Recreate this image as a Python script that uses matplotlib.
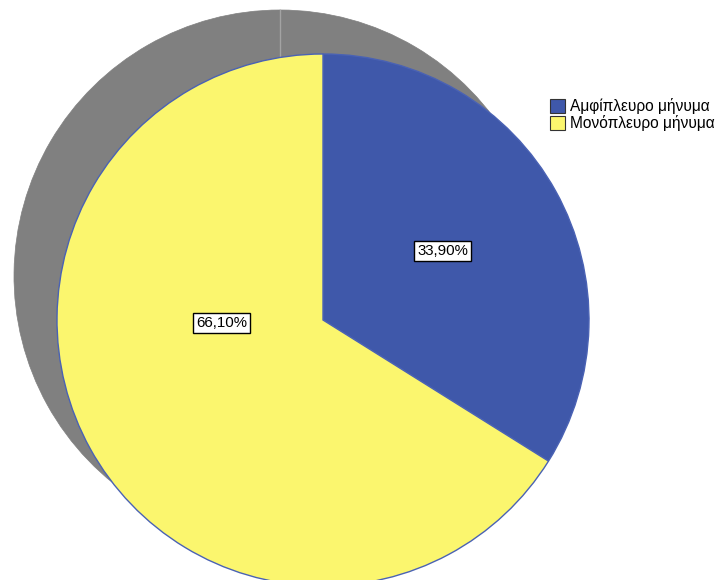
import matplotlib
matplotlib.use('Agg')
import matplotlib.pyplot as plt
from matplotlib.patches import Patch

plt.rcParams['font.family'] = ['Liberation Sans', 'DejaVu Sans']

# Chart data
categories = ['Αμφίπλευρο μήνυμα', 'Μονόπλευρο μήνυμα']
percentages = [33.90, 66.10]
colors = ['#3f58aa', '#fbf66e']

W, H = 719, 580
fig = plt.figure(figsize=(W / 100, H / 100), dpi=100)
ax = fig.add_axes([0, 0, 1, 1])

radius = 266
center = (323, H - 320)
shadow_center = (280, H - 276)

# gray shadow pie behind the main one
ax.pie(percentages, colors=['#808080'] * len(percentages), startangle=90,
       counterclock=False, center=shadow_center, radius=radius,
       wedgeprops=dict(edgecolor='#808080', linewidth=0.5))
# light slice line visible on the shadow at the top
ax.plot([shadow_center[0]] * 2, [shadow_center[1], shadow_center[1] + radius],
        color='#a3a3a3', linewidth=1, zorder=1.5)

wedges, _ = ax.pie(percentages, colors=colors, startangle=90,
                   counterclock=False, center=center, radius=radius,
                   wedgeprops=dict(edgecolor='#4a62b4', linewidth=1, zorder=2))

# value labels (SPSS style boxes)
label_offsets = [(0.45, 0.26), (-0.38, -0.01)]
for pct, (dx, dy) in zip(percentages, label_offsets):
    txt = f'{pct:.2f}%'.replace('.', ',')
    ax.text(center[0] + dx * radius, center[1] + dy * radius, txt,
            ha='center', va='center', fontsize=10.8, color='black', zorder=3,
            bbox=dict(boxstyle='square,pad=0.2', facecolor='white',
                      edgecolor='black', linewidth=1))

handles = [Patch(facecolor=c, edgecolor='#333333', linewidth=0.8) for c in colors]
fig.legend(handles, categories, loc='upper left',
           bbox_to_anchor=(539 / W, 1 - 87 / H), frameon=False,
           fontsize=11.2, handlelength=1.0, handleheight=1.0,
           handletextpad=0.3, labelspacing=0.1, borderpad=0.2)

ax.set_xlim(0, W)
ax.set_ylim(0, H)
ax.set_aspect('equal')
ax.axis('off')

fig.savefig('out.png', dpi=100)
